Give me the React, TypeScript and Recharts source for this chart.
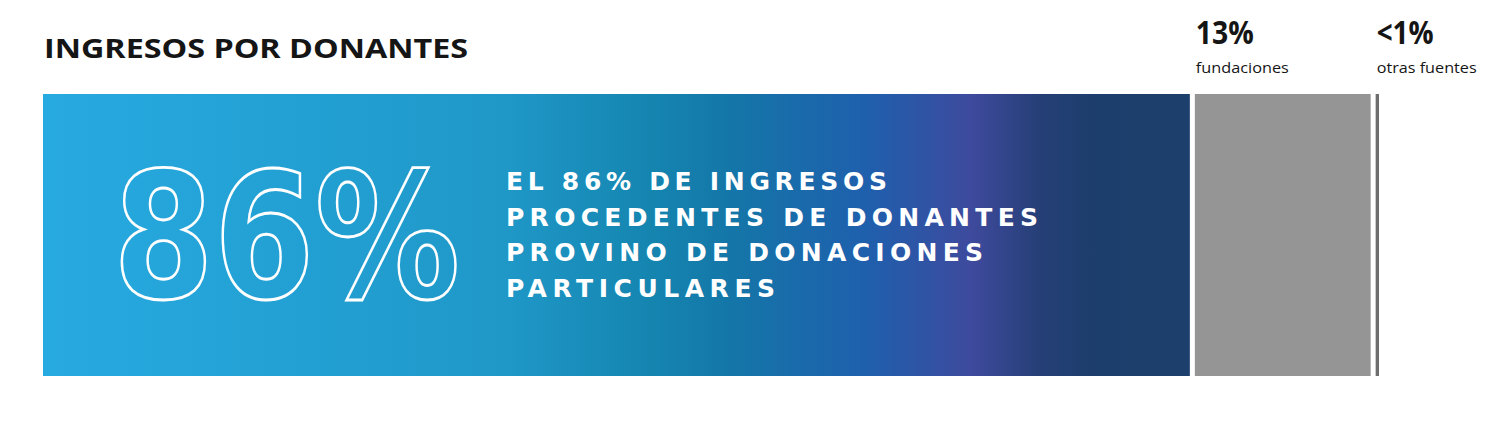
import React from 'react';
import { BarChart, Bar, XAxis, YAxis, LabelList } from 'recharts';

// Share of donor income by source (bar widths)
const sources = ['particulares', 'fundaciones', 'otras'];
const shares = [86, 13.5, 0.25];
const headlines = ['86%', '13%', '<1%'];
const captions = ['', 'fundaciones', 'otras fuentes'];
const statement = [
  'EL 86% DE INGRESOS',
  'PROCEDENTES DE DONANTES',
  'PROVINO DE DONACIONES',
  'PARTICULARES',
];
const title = 'INGRESOS POR DONANTES';

const row: Record<string, any> = { name: 'donantes' };
sources.forEach((s, i) => (row[s] = shares[i]));
const data = [row];
const total = shares.reduce((a, b) => a + b, 0);

const GAP = 5;
const SANS = '"Open Sans", "Lato", sans-serif';
const WIDE = '"DejaVu Sans", sans-serif';

const gapShape = (gap: number) => (props: any) => {
  const { x, y, width, height, fill } = props;
  return <rect x={x} y={y} width={Math.max(width - gap, 1)} height={height} fill={fill} />;
};

// big outlined number + statement inside the blue segment
const MainLabel = (props: any) => {
  const { x, y } = props;
  const lineWidths = [381, 532, 477, 269];
  const baselines = [190, 226, 261, 297];
  const bx = x + 70;
  const by = y + 204;
  return (
    <g>
      <g transform={`translate(${bx},${by}) scale(1,1.2)`}>
        <text
          x={0}
          y={0}
          fill="none"
          stroke="#fff"
          strokeWidth={2.4}
          fontFamily={WIDE}
          fontWeight={700}
          fontSize={146}
          textLength={347}
          lengthAdjust="spacingAndGlyphs"
        >
          {headlines[0]}
        </text>
      </g>
      {statement.map((line, i) => (
        <text
          key={i}
          x={x + 463}
          y={baselines[i]}
          fill="#fff"
          fontFamily={WIDE}
          fontWeight={700}
          fontSize={25}
          textLength={lineWidths[i]}
          lengthAdjust="spacing"
        >
          {line}
        </text>
      ))}
    </g>
  );
};

const SideLabel = (idx: number, headW: number, capW: number) => (props: any) => {
  const { x } = props;
  return (
    <g>
      <text
        x={x + 1}
        y={44}
        fill="#151515"
        fontFamily={SANS}
        fontWeight={700}
        fontSize={32}
        textLength={headW}
        lengthAdjust="spacingAndGlyphs"
      >
        {headlines[idx]}
      </text>
      <text
        x={x + 1}
        y={73}
        fill="#151515"
        fontFamily={SANS}
        fontSize={15}
        textLength={capW}
        lengthAdjust="spacingAndGlyphs"
      >
        {captions[idx]}
      </text>
    </g>
  );
};

export default function App() {
  return (
    <div style={{ position: 'relative', margin: '-8px 0 0 -8px', width: 1500, height: 428, background: '#fff' }}>
      <svg width={1500} height={428} style={{ position: 'absolute', left: 0, top: 0 }}>
        <text
          x={44}
          y={58}
          fill="#151515"
          fontFamily={SANS}
          fontWeight={700}
          fontSize={27}
          textLength={424}
          lengthAdjust="spacingAndGlyphs"
        >
          {title}
        </text>
      </svg>
      <div style={{ position: 'absolute', left: 0, top: 0 }}>
        <BarChart
          width={1500}
          height={428}
          data={data}
          layout="vertical"
          margin={{ top: 94, right: 121, bottom: 52, left: 43 }}
          barCategoryGap={0}
        >
          <defs>
            <linearGradient id="blueGrad" x1="0" y1="0" x2="1" y2="0">
              <stop offset="0" stopColor="#27AAE1" />
              <stop offset="0.4" stopColor="#1F98C8" />
              <stop offset="0.53" stopColor="#1585B0" />
              <stop offset="0.6" stopColor="#1476A8" />
              <stop offset="0.72" stopColor="#1F5FAD" />
              <stop offset="0.81" stopColor="#3E4A9D" />
              <stop offset="0.87" stopColor="#253F76" />
              <stop offset="0.92" stopColor="#1C3E6C" />
              <stop offset="1" stopColor="#1C3F6B" />
            </linearGradient>
          </defs>
          <XAxis type="number" hide domain={[0, total]} />
          <YAxis type="category" dataKey="name" hide />
          <Bar dataKey="particulares" stackId="a" fill="url(#blueGrad)" shape={gapShape(GAP)} isAnimationActive={false}>
            <LabelList dataKey="particulares" content={MainLabel} />
          </Bar>
          <Bar dataKey="fundaciones" stackId="a" fill="#959595" shape={gapShape(GAP)} isAnimationActive={false}>
            <LabelList dataKey="fundaciones" content={SideLabel(1, 58, 93)} />
          </Bar>
          <Bar dataKey="otras" stackId="a" fill="#6E6E6E" shape={gapShape(0)} isAnimationActive={false}>
            <LabelList dataKey="otras" content={SideLabel(2, 57, 100)} />
          </Bar>
        </BarChart>
      </div>
    </div>
  );
}
